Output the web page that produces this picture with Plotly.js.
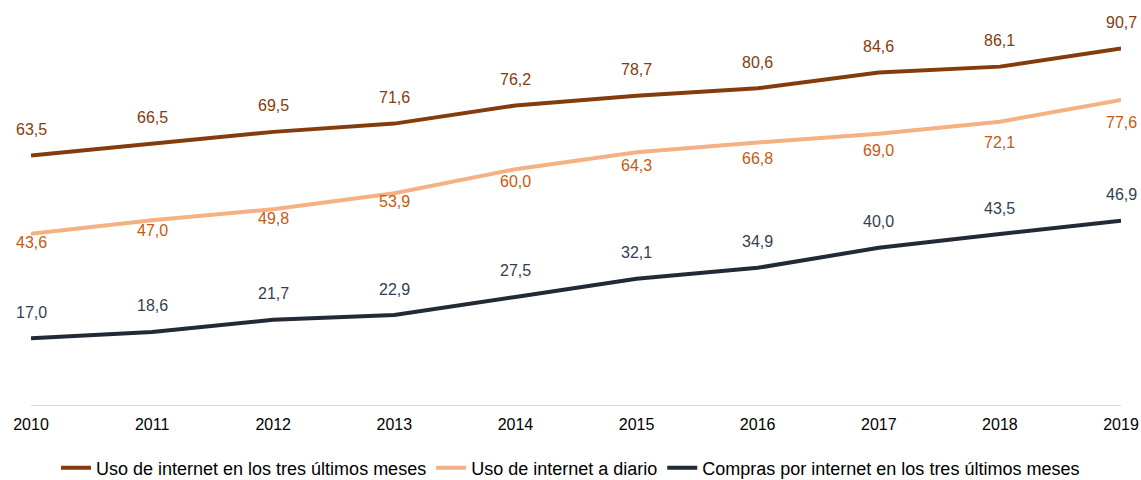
<!DOCTYPE html>
<html>
<head>
<meta charset="utf-8">
<script src="https://cdn.plot.ly/plotly-3.0.1.min.js"></script>
<style>
  body { margin: 0; background: #fff; }
  #grafic { width: 1141px; height: 480px; }
</style>
</head>
<body>
<div id="grafic"></div>
<script>
// dades llegides del gràfic
var anys = [2010, 2011, 2012, 2013, 2014, 2015, 2016, 2017, 2018, 2019];
var usoTresMeses = [63.5, 66.5, 69.5, 71.6, 76.2, 78.7, 80.6, 84.6, 86.1, 90.7];
var usoDiario = [43.6, 47.0, 49.8, 53.9, 60.0, 64.3, 66.8, 69.0, 72.1, 77.6];
var comprasTresMeses = [17.0, 18.6, 21.7, 22.9, 27.5, 32.1, 34.9, 40.0, 43.5, 46.9];

var nomsSeries = [
    'Uso de internet en los tres últimos meses',
    'Uso de internet a diario',
    'Compras por internet en los tres últimos meses'
];

var colorsLinia = ['#843C0C', '#F4B183', '#222A35'];
var colorsText = ['#843C0C', '#C55A11', '#333F50'];

// posició de les etiquetes (px respecte la línia): a sobre per 1a i 3a, a sota per la 2a
var desplacEtiq = [
    [26, 26, 26, 26, 26, 26, 26, 26, 26, 26],
    [-9, -10, -9, -8, -12, -13, -16, -17, -21, -22],
    [26, 26, 26, 26, 26, 26, 26, 26, 26, 26]
];

function coma(v) {
    return v.toFixed(1).replace('.', ',');
}

var series = [usoTresMeses, usoDiario, comprasTresMeses];

var traces = [];
var anotacions = [];
for (var s = 0; s < series.length; s++) {
    traces.push({
        x: anys, y: series[s], mode: 'lines', type: 'scatter',
        name: nomsSeries[s],
        line: {color: colorsLinia[s], width: 4},
        hoverinfo: 'skip'
    });
    for (var k = 0; k < anys.length; k++) {
        anotacions.push({
            x: anys[k], y: series[s][k], xref: 'x', yref: 'y',
            text: coma(series[s][k]), showarrow: false,
            yshift: desplacEtiq[s][k],
            font: {family: 'Liberation Sans, Arial, sans-serif', size: 16, color: colorsText[s]}
        });
    }
}

var layout = {
    width: 1141, height: 480,
    margin: {l: 31, r: 20, t: 12, b: 75},
    paper_bgcolor: '#fff', plot_bgcolor: '#fff',
    font: {family: 'Liberation Sans, Arial, sans-serif', size: 16, color: '#000'},
    xaxis: {
        range: [2010, 2019], tickvals: anys, ticktext: anys.map(String),
        showgrid: false, zeroline: false, showline: false, ticks: '',
        ticklabelstandoff: 8,
        tickfont: {size: 16, color: '#000'}
    },
    yaxis: {
        range: [0, 100], showgrid: false, showticklabels: false, ticks: '',
        zeroline: true, zerolinecolor: '#D9D9D9', zerolinewidth: 1
    },
    showlegend: true,
    legend: {
        orientation: 'h', x: 0.5, xanchor: 'center',
        xref: 'container', yref: 'container', y: 0.025, yanchor: 'middle',
        font: {size: 18, color: '#000'}, traceorder: 'normal'
    },
    annotations: anotacions
};

Plotly.newPlot('grafic', traces, layout, {displayModeBar: false, staticPlot: true});
</script>
</body>
</html>
